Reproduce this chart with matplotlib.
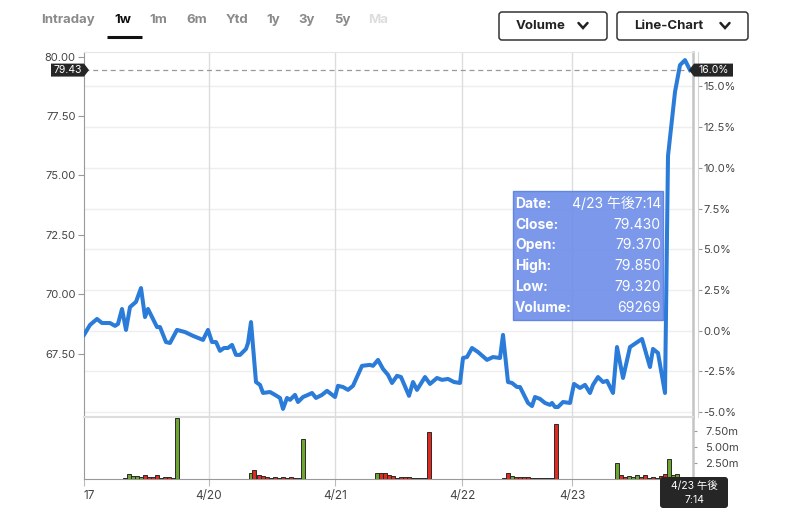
import matplotlib
matplotlib.use('Agg')
import matplotlib.pyplot as plt
import numpy as np
from matplotlib.patches import FancyBboxPatch, Polygon, Rectangle
from matplotlib.lines import Line2D
from matplotlib.transforms import IdentityTransform

plt.rcParams['font.family'] = ['Inter', 'Noto Sans CJK JP', 'DejaVu Sans']

# price line: time in chart steps (one step ~ 5 px of the original), price
t = [0, 1.2, 2.6, 3.6, 5.2, 6.2, 6.8, 7.6, 8.4, 9.2,
     10.4, 11.4, 12.2, 12.8, 14.6, 15.2, 16.4, 17.2, 18.6, 20.2,
     21.8, 23.8, 24.8, 25.6, 26.4, 27.2, 28.0, 28.8, 29.6, 30.4,
     31.2, 32.4, 32.8, 33.4, 34.4, 35.2, 35.8, 37.2, 38.2, 39.2,
     39.8, 40.6, 41.2, 42.2, 42.8, 43.8, 44.8, 45.6, 46.4, 47.6,
     48.6, 50.2, 50.8, 51.8, 52.8, 53.8, 55.6, 57.2, 57.8, 58.8,
     59.8, 60.8, 61.6, 62.6, 63.4, 65.0, 65.8, 66.6, 68.2, 69.2,
     70.6, 71.6, 72.8, 74.0, 75.2, 75.8, 76.6, 77.6, 78.8, 80.6,
     81.8, 83.2, 83.8, 84.8, 85.6, 86.6, 87.2, 87.8, 88.8, 89.6,
     90.2, 91.2, 92.2, 93.2, 93.6, 94.2, 94.8, 95.8, 97.2, 98.0,
     99.2, 100.2, 101.2, 101.8, 102.8, 103.8, 104.6, 105.8, 106.6, 107.8,
     109.2, 111.6, 113.2, 113.8, 114.8, 116.2, 116.8, 118.2, 119.2, 120.2,
     121.2]
price = [68.30, 68.72, 68.97, 68.80, 68.80, 68.68, 68.76, 69.39, 68.51, 69.47,
         69.69, 70.27, 69.05, 69.39, 68.63, 68.63, 68.00, 67.96, 68.51, 68.42,
         68.26, 68.09, 68.51, 68.00, 68.00, 67.63, 67.75, 67.75, 67.88, 67.46,
         67.46, 67.71, 67.96, 68.84, 66.32, 66.20, 65.86, 65.90, 65.78, 65.65,
         65.19, 65.65, 65.57, 65.78, 65.48, 65.69, 65.78, 65.86, 65.65, 65.78,
         65.95, 65.69, 66.16, 66.11, 65.99, 66.16, 67.00, 67.04, 67.00, 67.25,
         66.87, 66.62, 66.28, 66.58, 66.53, 65.74, 66.32, 65.99, 66.53, 66.24,
         66.49, 66.41, 66.45, 66.32, 66.28, 67.33, 67.37, 67.75, 67.58, 67.25,
         67.37, 67.33, 68.30, 66.32, 66.28, 66.11, 66.11, 65.86, 65.44, 65.31,
         65.69, 65.61, 65.44, 65.36, 65.44, 65.27, 65.27, 65.48, 65.44, 66.24,
         66.07, 66.20, 65.86, 66.20, 66.53, 66.32, 66.37, 65.86, 67.79, 66.49,
         67.79, 68.13, 66.95, 67.71, 67.54, 65.86, 75.82, 78.51, 79.64, 79.85,
         79.43]

day_ticks = [0, 25, 50.2, 75.6, 97.6]
day_labels = ['17', '4/20', '4/21', '4/22', '4/23']

# volume (millions), one list per trading session, with up/down flags
vol_start = [8.2, 33.3, 58.6, 83.9, 106.6]
vol_values = [
    [0.15, 0.73, 0.45, 0.45, 0.3, 0.6, 0.3, 0.3, 0.6, 0.2, 0.35, 0.35, 0.15, 9.5],
    [1.0, 1.4, 0.6, 0.5, 0.25, 0.2, 0.25, 0.2, 0.25, 0.2, 0.25, 0.2, 0.2, 6.2],
    [1.0, 1.0, 1.0, 0.6, 0.5, 0.2, 0.25, 0.35, 0.25, 0.2, 0.2, 0.2, 0.2, 7.4],
    [0.15, 1.0, 0.4, 0.3, 0.3, 0.35, 0.3, 0.15, 0.15, 0.15, 0.15, 0.15, 0.2, 8.6],
    [2.45, 0.6, 0.3, 0.5, 0.25, 0.7, 0.25, 0.6, 0.2, 0.25, 0.15, 0.45, 0.8, 3.1, 0.6, 0.8],
]
vol_up = [
    [0, 1, 1, 1, 1, 0, 0, 0, 0, 0, 0, 0, 0, 1],
    [1, 0, 0, 0, 0, 0, 0, 0, 0, 0, 0, 0, 0, 1],
    [1, 0, 0, 0, 0, 0, 0, 0, 0, 1, 0, 0, 0, 0],
    [0, 0, 1, 0, 0, 0, 0, 0, 0, 0, 0, 0, 0, 0],
    [1, 0, 0, 1, 1, 1, 0, 0, 0, 0, 0, 0, 0, 1, 1, 1],
]
vol_ticks = [2.5, 5.0, 7.5]

last_price = 79.43
last_pct = 16.0
base = last_price / (1 + last_pct / 100)
pct_ticks = [-5.0, -2.5, 0.0, 2.5, 5.0, 7.5, 10.0, 12.5, 15.0]
price_ticks = [67.5, 70.0, 72.5, 75.0, 77.5, 80.0]

tooltip_rows = [('Date:', '4/23 午後7:14'), ('Close:', '79.430'), ('Open:', '79.370'),
                ('High:', '79.850'), ('Low:', '79.320'), ('Volume:', '69269')]
nav_items = ['Intraday', '1w', '1m', '6m', 'Ytd', '1y', '3y', '5y', 'Ma']

W, H = 800, 517
fig = plt.figure(figsize=(W / 100, H / 100), dpi=100)
fig.patch.set_facecolor('white')
ID = IdentityTransform()


def fx(x):
    return x / W


def fy(y):
    return 1 - y / H


def py(y):  # top-down pixel -> display y
    return H - y


ax = fig.add_axes([fx(84), fy(417), fx(693) - fx(84), fy(52) - fy(417)])
axv = fig.add_axes([fx(84), fy(479), fx(693) - fx(84), fy(417) - fy(479)], sharex=ax)

line_blue = '#2b7bd8'
ax.plot(t, price, color=line_blue, lw=2.9, solid_joinstyle='round', zorder=4)
ax.set_xlim(0, 121.8)
ax.set_ylim(64.85, 80.19)

for p in pct_ticks:
    ax.axhline(base * (1 + p / 100), color='#eeeeee', lw=1, zorder=0)
for d in day_ticks[1:]:
    ax.axvline(d, color='#dddddd', lw=1, zorder=0)
    axv.axvline(d, color='#dddddd', lw=1, zorder=0)

ax.axhline(last_price, color='#999999', lw=0.9, ls=(0, (4, 3)), zorder=2)

ax.set_yticks(price_ticks)
ax.set_yticklabels([f'{v:.2f}' for v in price_ticks])
ax.tick_params(axis='y', length=4, color='#999999', labelsize=8,
               labelcolor='#444444', pad=2)
ax.tick_params(axis='x', bottom=False, labelbottom=False)
ax.spines['top'].set_color('#e6e6e6')
ax.spines['left'].set_color('#999999')
ax.spines['right'].set_color('#c4c4c4')
ax.spines['right'].set_linewidth(1.8)
ax.spines['bottom'].set_visible(False)

sec = ax.secondary_yaxis(1.008, functions=(lambda p: (p / base - 1) * 100,
                                           lambda q: base * (1 + q / 100)))
sec.set_yticks(pct_ticks)
sec.set_yticklabels([f'{v:.1f}%' for v in pct_ticks])
sec.tick_params(length=3, color='#999999', labelsize=8, labelcolor='#444444', pad=1)
sec.spines['right'].set_color('#d6d6d6')

# volume bars
for start, vals, ups in zip(vol_start, vol_values, vol_up):
    xs = [start + 0.8 * j for j in range(len(vals))]
    cols = ['#6ca631' if u else '#e2291d' for u in ups]
    axv.bar(xs, vals, width=0.8, color=cols, edgecolor='#2a2a2a', lw=0.7, zorder=3)

axv.set_ylim(0, 9.7)
axv.yaxis.tick_right()
axv.set_yticks(vol_ticks)
axv.set_yticklabels([f'{v:.2f}m' for v in vol_ticks])
axv.tick_params(axis='y', length=3, color='#999999', labelsize=8,
                labelcolor='#444444', pad=6)
axv.set_xticks(day_ticks)
axv.set_xticklabels(day_labels)
axv.tick_params(axis='x', length=5, color='#bbbbbb', labelsize=8.5,
                labelcolor='#444444', pad=3)
axv.get_xticklabels()[0].set_horizontalalignment('left')
axv.spines['top'].set_color('#dddddd')
axv.spines['top'].set_linewidth(1.5)
axv.spines['left'].set_color('#999999')
axv.spines['bottom'].set_color('#999999')
axv.spines['right'].set_color('#c4c4c4')
axv.spines['right'].set_linewidth(1.8)

fig.canvas.draw()
y_last = ax.transData.transform((0, last_price))[1]

# left price flag
fig.add_artist(Polygon([(51, y_last - 6.5), (84, y_last - 6.5), (89, y_last),
                        (84, y_last + 6.5), (51, y_last + 6.5)],
                       closed=True, transform=ID, facecolor='#262626',
                       edgecolor='none', zorder=10))
fig.text(68, y_last, f'{last_price:.2f}', transform=ID, ha='center', va='center',
         color='white', fontsize=7.5, zorder=11)
# right percent flag
fig.add_artist(Polygon([(689, y_last), (694, y_last - 6.5), (733, y_last - 6.5),
                        (733, y_last + 6.5), (694, y_last + 6.5)],
                       closed=True, transform=ID, facecolor='#262626',
                       edgecolor='none', zorder=10))
fig.text(713.5, y_last, f'{last_pct:.1f}%', transform=ID, ha='center', va='center',
         color='white', fontsize=7.5, zorder=11)

# hover tooltip
fig.add_artist(Rectangle((513, py(320)), 150, 129, transform=ID,
                         facecolor='#6d8de9', edgecolor='#5b7fe0', lw=1,
                         alpha=0.9, zorder=8))
for i, (k, v) in enumerate(tooltip_rows):
    yy = py(204 + i * 20.7)
    fig.text(515, yy, k, transform=ID, ha='left', va='center', color='white',
             fontsize=10, fontweight='bold', zorder=9)
    fig.text(661, yy, v, transform=ID, ha='right', va='center', color='white',
             fontsize=10, zorder=9)

# crosshair time label at the bottom
fig.add_artist(FancyBboxPatch((660, py(508)), 68, 31, transform=ID,
                              boxstyle='round,pad=0,rounding_size=3',
                              facecolor='#262626', edgecolor='none', zorder=10))
fig.text(694, py(486), '4/23 午後', transform=ID, ha='center', va='center',
         color='white', fontsize=7.5, zorder=11)
fig.text(694, py(500), '7:14', transform=ID, ha='center', va='center',
         color='white', fontsize=7.5, zorder=11)

# range selector
nav_x = [68, 123, 158, 197, 237, 273, 307, 342, 378]
for name, xx in zip(nav_items, nav_x):
    col = '#111111' if name == '1w' else ('#dddddd' if name == 'Ma' else '#8a8a8a')
    fig.text(xx, py(20), name, transform=ID, ha='center', va='center',
             color=col, fontsize=9.5, fontweight='bold')
fig.add_artist(Line2D([107, 142], [py(37), py(37)], transform=ID,
                      color='#111111', lw=2.2, solid_capstyle='butt'))

# dropdown buttons
for label, x0, x1, tx, cx in [('Volume', 499, 607, 541, 583),
                              ('Line-Chart', 617, 748, 669, 725)]:
    fig.add_artist(FancyBboxPatch((x0, py(40)), x1 - x0, 28, transform=ID,
                                  boxstyle='round,pad=0,rounding_size=3',
                                  facecolor='white', edgecolor='#333333', lw=1.1))
    fig.text(tx, py(26), label, transform=ID, ha='center', va='center',
             color='#222222', fontsize=9.5, fontweight='bold')
    fig.add_artist(Line2D([cx - 4.5, cx, cx + 4.5], [py(23), py(28), py(23)],
                          transform=ID, color='#222222', lw=1.8,
                          solid_capstyle='round', solid_joinstyle='miter'))

fig.savefig('out.png', dpi=100)
